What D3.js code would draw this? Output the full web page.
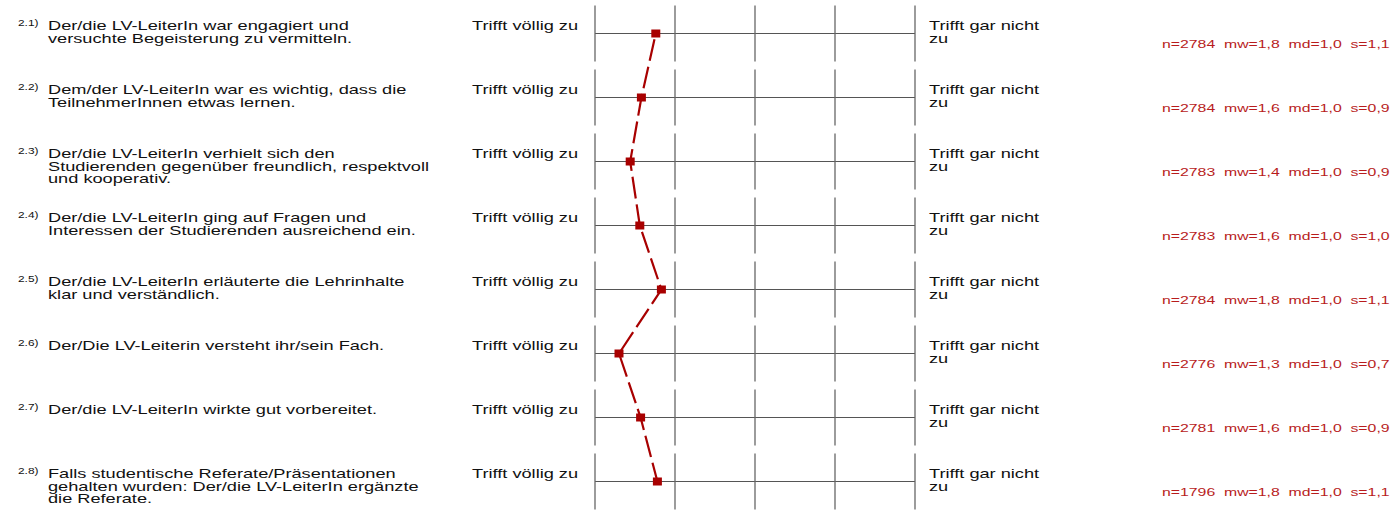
<!DOCTYPE html>
<html>
<head>
<meta charset="utf-8">
<script src="https://cdn.jsdelivr.net/npm/d3@7"></script>
<style>
  html, body { margin: 0; padding: 0; background: #fff; }
  svg { display: block; }
  text { font-family: "Liberation Sans", Arial, sans-serif; white-space: pre; }
</style>
</head>
<body>
<svg id="chart"></svg>
<script>
// profile line data
const ids = ['2.1)', '2.2)', '2.3)', '2.4)', '2.5)', '2.6)', '2.7)', '2.8)'];
const questions = [
  ['Der/die LV-LeiterIn war engagiert und', 'versuchte Begeisterung zu vermitteln.'],
  ['Dem/der LV-LeiterIn war es wichtig, dass die', 'TeilnehmerInnen etwas lernen.'],
  ['Der/die LV-LeiterIn verhielt sich den', 'Studierenden gegenüber freundlich, respektvoll', 'und kooperativ.'],
  ['Der/die LV-LeiterIn ging auf Fragen und', 'Interessen der Studierenden ausreichend ein.'],
  ['Der/die LV-LeiterIn erläuterte die Lehrinhalte', 'klar und verständlich.'],
  ['Der/Die LV-Leiterin versteht ihr/sein Fach.'],
  ['Der/die LV-LeiterIn wirkte gut vorbereitet.'],
  ['Falls studentische Referate/Präsentationen', 'gehalten wurden: Der/die LV-LeiterIn ergänzte', 'die Referate.']
];
const means = [1.76, 1.58, 1.44, 1.56, 1.83, 1.30, 1.57, 1.78];
const nValues = [2784, 2784, 2783, 2783, 2784, 2776, 2781, 1796];
const mwLabels = ['1,8', '1,6', '1,4', '1,6', '1,8', '1,3', '1,6', '1,8'];
const mdLabels = ['1,0', '1,0', '1,0', '1,0', '1,0', '1,0', '1,0', '1,0'];
const sLabels = ['1,1', '0,9', '0,9', '1,0', '1,1', '0,7', '0,9', '1,1'];
const leftPole = 'Trifft völlig zu';
const rightPole = ['Trifft gar nicht', 'zu'];
const scaleTicks = [1, 2, 3, 4, 5];

const width = 1394;
const height = 519;
const sx = 1.4; // glyphs in the source are wide
const lineStep = 12.5;
const red = '#a80000';

const svg = d3.select('#chart').attr('width', width).attr('height', height);
svg.append('rect').attr('width', width).attr('height', height).attr('fill', '#fff');

const x = d3.scaleLinear().domain([1, 5]).range([595, 915]);
const y = d3.scalePoint().domain(ids).range([33.5, 481.5]);

const rows = svg.selectAll('.row')
  .data(ids.map((id, i) => ({ id, i })))
  .join('g')
  .attr('class', 'row');

// stretched text helper
const addText = (g, tx, ty, str, size, fill) =>
  g.append('text')
    .attr('transform', `translate(${tx},${ty}) scale(${sx},1)`)
    .attr('font-size', size)
    .attr('fill', fill || '#111')
    .text(str);

rows.each(function (d) {
  const g = d3.select(this);
  const yy = y(d.id);
  const top = yy - 3.5;

  addText(g, 18, yy - 7.5, d.id, 8.5);
  questions[d.i].forEach((line, k) => addText(g, 48, top + k * lineStep, line, 13));

  addText(g, 472, top, leftPole, 13);
  rightPole.forEach((line, k) => addText(g, 929, top + k * lineStep, line, 13));

  const stats = `n=${nValues[d.i]}  mw=${mwLabels[d.i]}  md=${mdLabels[d.i]}  s=${sLabels[d.i]}`;
  addText(g, 1162, yy + 14, stats, 11.3, '#b81c1c');

  // grid
  g.append('line')
    .attr('x1', x(1)).attr('x2', x(5))
    .attr('y1', yy).attr('y2', yy)
    .attr('stroke', '#555').attr('stroke-width', 1);
  g.selectAll('.tick')
    .data(scaleTicks)
    .join('line')
    .attr('class', 'tick')
    .attr('x1', (t) => x(t)).attr('x2', (t) => x(t))
    .attr('y1', yy - 28).attr('y2', yy + 28)
    .attr('stroke', '#666').attr('stroke-width', 1.3);
});

// profile line
const pts = means.map((m, i) => [x(m), y(ids[i])]);
svg.append('path')
  .attr('d', d3.line()(pts))
  .attr('fill', 'none')
  .attr('stroke', red)
  .attr('stroke-width', 2.2)
  .attr('stroke-dasharray', '22,6')
  .attr('stroke-dashoffset', -6);

svg.selectAll('.marker')
  .data(pts)
  .join('rect')
  .attr('class', 'marker')
  .attr('x', (p) => p[0] - 4.5)
  .attr('y', (p) => p[1] - 4)
  .attr('width', 9)
  .attr('height', 8)
  .attr('fill', red);
</script>
</body>
</html>
